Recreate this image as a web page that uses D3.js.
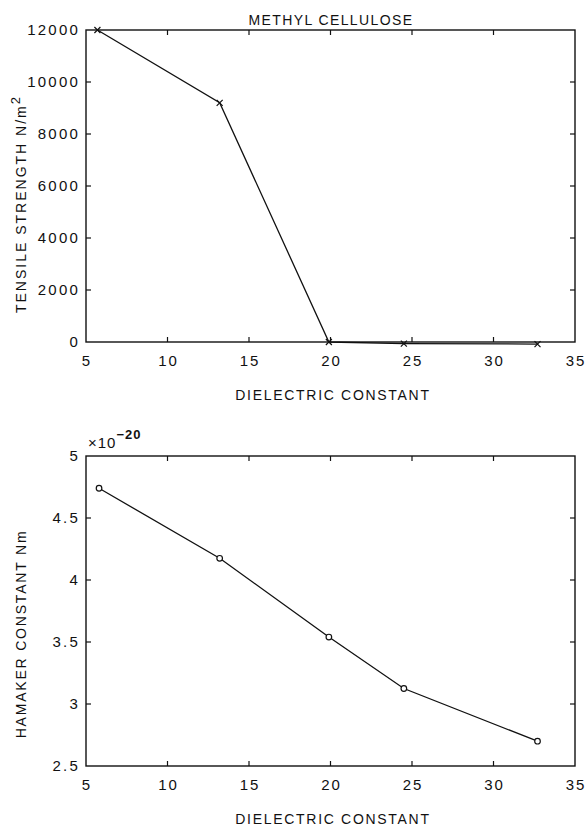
<!DOCTYPE html>
<html>
<head>
<meta charset="utf-8">
<script src="https://cdn.jsdelivr.net/npm/d3@7"></script>
<style>
  html, body { margin: 0; padding: 0; background: #fff; }
  svg { display: block; }
  text { font-family: "Liberation Sans", Arial, sans-serif; fill: #111; }
</style>
</head>
<body>
<svg id="chart" width="586" height="827"></svg>
<script>
// ---- Data ----
const dielectricTop = [5.7, 13.2, 19.9, 24.5, 32.7];
const tensileStrength = [12000, 9200, 0, -60, -80];
const dielectricBottom = [5.8, 13.2, 19.9, 24.5, 32.7];
const hamakerConstant = [4.74, 4.175, 3.54, 3.125, 2.70];

const xTicks = [5, 10, 15, 20, 25, 30, 35];
const yTicksTop = [0, 2000, 4000, 6000, 8000, 10000, 12000];
const yTicksBottom = [2.5, 3, 3.5, 4, 4.5, 5];

const titleTop = "METHYL CELLULOSE";
const xTitle = "DIELECTRIC CONSTANT";
const yTitleTop = ["TENSILE STRENGTH N/m", "2"];
const yTitleBottom = "HAMAKER CONSTANT Nm";

// ---- Layout ----
const svg = d3.select("#chart");
const L = 86, R = 575;

function panel(cfg) {
  const g = svg.append("g");
  const x = d3.scaleLinear().domain([5, 35]).range([L, R]);
  const y = d3.scaleLinear().domain(cfg.ydomain).range([cfg.bottom, cfg.top]);

  g.append("rect").attr("x", L).attr("y", cfg.top)
    .attr("width", R - L).attr("height", cfg.bottom - cfg.top)
    .attr("fill", "none").attr("stroke", "#111").attr("stroke-width", 1.4);

  const inner = xTicks.slice(1, -1);
  g.selectAll(".xtb").data(inner).enter().append("line")
    .attr("x1", d => x(d)).attr("x2", d => x(d))
    .attr("y1", cfg.bottom).attr("y2", cfg.bottom - 5)
    .attr("stroke", "#111").attr("stroke-width", 1.2);
  g.selectAll(".xtt").data(inner).enter().append("line")
    .attr("x1", d => x(d)).attr("x2", d => x(d))
    .attr("y1", cfg.top).attr("y2", cfg.top + 5)
    .attr("stroke", "#111").attr("stroke-width", 1.2);
  const yin = cfg.yticks.slice(1, -1);
  g.selectAll(".ytl").data(yin).enter().append("line")
    .attr("x1", L).attr("x2", L + 5)
    .attr("y1", d => y(d)).attr("y2", d => y(d))
    .attr("stroke", "#111").attr("stroke-width", 1.2);
  g.selectAll(".ytr").data(yin).enter().append("line")
    .attr("x1", R).attr("x2", R - 5)
    .attr("y1", d => y(d)).attr("y2", d => y(d))
    .attr("stroke", "#111").attr("stroke-width", 1.2);

  g.selectAll(".xl").data(xTicks).enter().append("text")
    .attr("x", d => x(d) + 1).attr("y", cfg.bottom + 24)
    .attr("text-anchor", "middle").attr("font-size", 15)
    .attr("letter-spacing", 2)
    .text(d => d);
  g.selectAll(".yl").data(cfg.yticks).enter().append("text")
    .attr("x", L - 6).attr("y", d => y(d) + 5)
    .attr("text-anchor", "end").attr("font-size", 15)
    .attr("letter-spacing", 2.2)
    .text(d => cfg.fmt(d));

  g.append("text").attr("x", 333).attr("y", cfg.bottom + 58)
    .attr("text-anchor", "middle").attr("font-size", 14)
    .attr("letter-spacing", 1.7).text(xTitle);

  const pts = cfg.xs.map((d, i) => [d, cfg.ys[i]]);
  g.append("path").datum(pts)
    .attr("d", d3.line().x(d => x(d[0])).y(d => y(d[1])))
    .attr("fill", "none").attr("stroke", "#111").attr("stroke-width", 1.3);

  return { g, x, y, pts };
}

// Top panel
const pTop = panel({
  top: 30, bottom: 342, ydomain: [0, 12000], yticks: yTicksTop,
  fmt: d => String(d), xs: dielectricTop, ys: tensileStrength
});
pTop.g.selectAll(".mk").data(pTop.pts).enter().append("path")
  .attr("d", d => {
    const cx = pTop.x(d[0]), cy = pTop.y(d[1]), s = 3;
    return `M${cx - s},${cy - s}L${cx + s},${cy + s}M${cx - s},${cy + s}L${cx + s},${cy - s}`;
  })
  .attr("stroke", "#111").attr("stroke-width", 1.2).attr("fill", "none");

pTop.g.append("text").attr("x", 331).attr("y", 25)
  .attr("text-anchor", "middle").attr("font-size", 14)
  .attr("letter-spacing", 1.4).text(titleTop);

const yt1 = pTop.g.append("text")
  .attr("transform", "translate(26,204) rotate(-90)")
  .attr("text-anchor", "middle").attr("font-size", 14)
  .attr("letter-spacing", 2);
yt1.append("tspan").text(yTitleTop[0]);
yt1.append("tspan").attr("dy", -6).attr("font-size", 13).text(yTitleTop[1]);

// Bottom panel
const pBot = panel({
  top: 456, bottom: 766, ydomain: [2.5, 5], yticks: yTicksBottom,
  fmt: d => String(d), xs: dielectricBottom, ys: hamakerConstant
});
pBot.g.selectAll(".mk").data(pBot.pts).enter().append("circle")
  .attr("cx", d => pBot.x(d[0])).attr("cy", d => pBot.y(d[1])).attr("r", 2.8)
  .attr("fill", "#fff").attr("stroke", "#111").attr("stroke-width", 1.2);

const ex = pBot.g.append("text").attr("x", 88).attr("y", 448)
  .attr("font-size", 15).attr("letter-spacing", 1);
ex.append("tspan").text("×10");
ex.append("tspan").attr("dy", -9).attr("font-size", 13).attr("font-weight", "bold").text("−20");

pBot.g.append("text")
  .attr("transform", "translate(26,634) rotate(-90)")
  .attr("text-anchor", "middle").attr("font-size", 14)
  .attr("letter-spacing", 1.8).text(yTitleBottom);
</script>
</body>
</html>
